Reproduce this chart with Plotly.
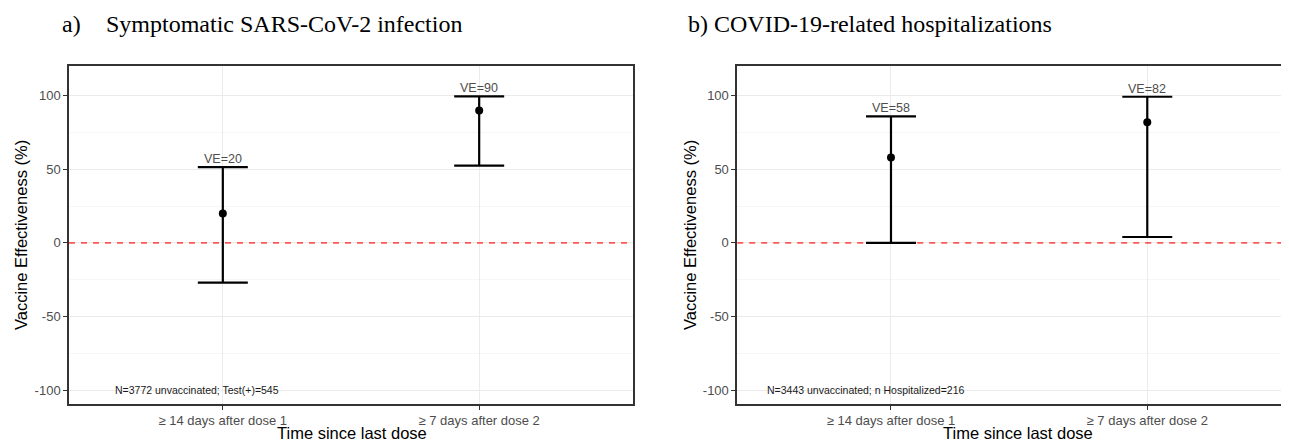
import plotly.graph_objects as go

# ---- data ----
categories = ["≥ 14 days after dose 1", "≥ 7 days after dose 2"]
ve_a = [20, 90]
lo_a = [-27, 52.5]
hi_a = [51.5, 99.5]
ve_b = [58, 82]
lo_b = [0, 4]
hi_b = [86, 99.3]
note_a = "N=3772 unvaccinated; Test(+)=545"
note_b = "N=3443 unvaccinated; n Hospitalized=216"
title_a_label = "a)"
title_a = "Symptomatic SARS-CoV-2 infection"
title_b = "b) COVID-19-related hospitalizations"
yticks = [-100, -50, 0, 50, 100]
yticklabels = ["-100", "-50", "0", "50", "100"]
ref_value = 0  # null effect reference line

# page body has an 8px margin: figure drawn at (8, 8)
OFF = 8
W, H = 1289 - OFF, 442 - OFF
xpos = [i + 1 for i in range(len(categories))]
xrange_a = [0.4, 2.6]
xrange_b = [0.4, 2.553]

fig = go.Figure()

# red dashed reference lines (drawn first, under the error bars)
for xr, xa, ya in [(xrange_a, "x", "y"), (xrange_b, "x2", "y2")]:
    fig.add_trace(go.Scatter(
        x=xr, y=[ref_value, ref_value], mode="lines", xaxis=xa, yaxis=ya,
        line=dict(color="rgba(255,70,70,0.9)", width=1.6, dash="6px,6px"),
        showlegend=False, hoverinfo="skip", cliponaxis=True))

for ve, lo, hi, xa, ya in [(ve_a, lo_a, hi_a, "x", "y"), (ve_b, lo_b, hi_b, "x2", "y2")]:
    fig.add_trace(go.Scatter(
        x=xpos, y=ve, mode="markers", xaxis=xa, yaxis=ya,
        marker=dict(color="black", size=8),
        error_y=dict(type="data", symmetric=False,
                     array=[h - v for h, v in zip(hi, ve)],
                     arrayminus=[v - l for v, l in zip(ve, lo)],
                     color="black", thickness=2.2, width=25),
        showlegend=False, hoverinfo="skip"))

def px_x(p):
    return (p - OFF) / W

def px_y(p):
    return 1 - (p - OFF) / H

grid_major = "#ebebeb"
grid_minor = "#f6f6f6"
line_col = "#333333"
tick_font = dict(family="Liberation Sans, Arial", size=13, color="#4d4d4d")

ydom = [px_y(404), px_y(66)]
yrange = [-109.5, 120.2]

common_x = dict(tickmode="array", tickvals=xpos, ticktext=categories,
                showgrid=True, gridcolor=grid_major, gridwidth=1,
                zeroline=False, showline=True, linecolor=line_col, linewidth=1.5,
                mirror=True, ticks="outside", ticklen=4, tickcolor=line_col,
                tickfont=tick_font)
common_y = dict(range=yrange, domain=ydom, tickmode="array", tickvals=yticks,
                ticktext=yticklabels,
                showgrid=True, gridcolor=grid_major, gridwidth=1,
                minor=dict(dtick=25, tick0=0, showgrid=True, gridcolor=grid_minor, gridwidth=0.8),
                zeroline=False, showline=True, linecolor=line_col, linewidth=1.5,
                ticks="outside", ticklen=4, tickcolor=line_col, tickfont=tick_font)

fig.update_layout(
    width=W, height=H, autosize=False,
    margin=dict(l=0, r=0, t=0, b=0),
    paper_bgcolor="white", plot_bgcolor="white",
    xaxis=dict(common_x, domain=[px_x(69), px_x(633)], range=xrange_a, anchor="y"),
    yaxis=dict(common_y, anchor="x", mirror=True),
    xaxis2=dict(common_x, domain=[px_x(737.2), 1.0], range=xrange_b, anchor="y2"),
    yaxis2=dict(common_y, anchor="x2", mirror=False),
)

ann = []
# VE labels
for ve, hi, xr, yr in [(ve_a, hi_a, "x", "y"), (ve_b, hi_b, "x2", "y2")]:
    for x, v, h in zip(xpos, ve, hi):
        ann.append(dict(x=x, y=h, xref=xr, yref=yr, text=f"VE={v}", showarrow=False,
                        xanchor="center", yanchor="bottom", yshift=-1,
                        font=dict(family="Liberation Sans, Arial", size=12.5, color="#4d4d4d")))
# notes
for note, xr, yr in [(note_a, "x", "y"), (note_b, "x2", "y2")]:
    ann.append(dict(x=0.9, y=-100, xref=xr, yref=yr, text=note, showarrow=False,
                    xanchor="center", yanchor="middle",
                    font=dict(family="Liberation Sans, Arial", size=10.5, color="#1a1a1a")))
# axis titles
for xc in [21, 690]:
    ann.append(dict(x=px_x(xc), y=px_y(235), xref="paper", yref="paper",
                    text="Vaccine Effectiveness (%)", textangle=-90, showarrow=False,
                    xanchor="center", yanchor="middle",
                    font=dict(family="Liberation Sans, Arial", size=16.5, color="black")))
for xc in [352, 1018]:
    ann.append(dict(x=px_x(xc), y=px_y(433), xref="paper", yref="paper",
                    text="Time since last dose", showarrow=False,
                    xanchor="center", yanchor="middle",
                    font=dict(family="Liberation Sans, Arial", size=16.5, color="black")))
# panel titles
title_font = dict(family="Liberation Serif, Times New Roman", size=24, color="black")
for txt, xl in [(title_a_label, 60), (title_a, 104), (title_b, 686)]:
    ann.append(dict(x=px_x(xl), y=px_y(24), xref="paper", yref="paper", text=txt,
                    showarrow=False, xanchor="left", yanchor="middle", font=title_font))

fig.update_layout(annotations=ann)
fig.write_html("out.html")
